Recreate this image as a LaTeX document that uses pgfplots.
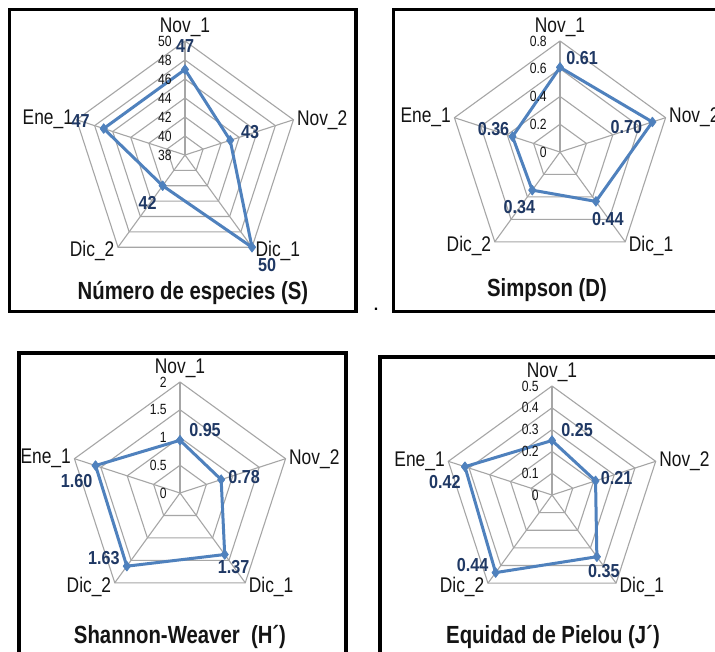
\documentclass[border=0pt]{standalone}
\usepackage{pgfplots}
\pgfplotsset{compat=1.18}
\usepackage{pgfplotstable}
\usepackage{fontspec}
\setmainfont{Liberation Sans}

\definecolor{serie}{RGB}{79,129,189}
\definecolor{valc}{RGB}{31,56,100}
\definecolor{gridc}{RGB}{166,166,166}
\definecolor{txt}{RGB}{20,20,20}

\newcommand\catfont{\fontsize{10.6}{12}\selectfont}
\newcommand\valfont{\bfseries\fontsize{9.4}{11}\selectfont}
\newcommand\tickfont{\fontsize{7.4}{9}\selectfont}
\newcommand\titlefont{\bfseries\fontsize{12.4}{14}\selectfont}

% ang = angle of the spoke, val = value, dx/dy = label offset in px (dy downwards)
\pgfplotstableread{
ang val dx dy
90 47 0 -23
18 43 20 -8
-54 50 15 18
-126 42 -15 17
162 47 -23 -8
}\datS

\pgfplotstableread{
ang val dx dy
90 0.61 22 -9
18 0.70 -26 5
-54 0.44 12 18
-126 0.34 -13 17
162 0.36 -19 -8
}\datD

\pgfplotstableread{
ang val dx dy
90 0.95 25 -10
18 0.78 23 -3
-54 1.37 9 13
-126 1.63 -23 -8
162 1.60 -19 15
}\datH

\pgfplotstableread{
ang val dx dy
90 0.25 25 -10
18 0.21 21 -3
-54 0.35 7 14
-126 0.44 -23 -8
162 0.42 -20 15
}\datJ

\pgfplotsset{
  radar/.style={hide axis, clip=false, x=#1, y=#1, anchor=center},
  serie/.style={color=serie, line width=1.5pt, line join=round,
    mark=diamond*, mark size=2.4pt, mark options={solid, line width=0.4pt},
    nodes near coords, point meta=explicit symbolic,
    visualization depends on={\thisrow{dx}\as\ldx},
    visualization depends on={\thisrow{dy}\as\ldy},
    nodes near coords style={font=\valfont, text=valc, anchor=center, inner sep=0pt,
      xshift=\ldx*0.5pt, yshift=-\ldy*0.5pt, xscale=0.86}},
}
\tikzset{
  cat/.style={font=\catfont, text=txt, inner sep=2pt, xscale=0.82},
  tlab/.style={font=\tickfont, text=txt, anchor=east, inner sep=0pt, xshift=-6.5pt, xscale=0.82},
}

\newcommand\ring[1]{\addplot[gridc, line width=0.55pt, data cs=polar, forget plot]
  coordinates {(90,#1)(18,#1)(-54,#1)(-126,#1)(162,#1)(90,#1)};}
\newcommand\spokes[1]{%
  \addplot[gridc, line width=0.55pt, data cs=polar, forget plot] coordinates {(90,0)(90,#1)};
  \addplot[gridc, line width=0.55pt, data cs=polar, forget plot] coordinates {(18,0)(18,#1)};
  \addplot[gridc, line width=0.55pt, data cs=polar, forget plot] coordinates {(-54,0)(-54,#1)};
  \addplot[gridc, line width=0.55pt, data cs=polar, forget plot] coordinates {(-126,0)(-126,#1)};
  \addplot[gridc, line width=0.55pt, data cs=polar, forget plot] coordinates {(162,0)(162,#1)};}
\newcommand\cats[1]{%
  \node[cat, anchor=south] at (axis cs:0,#1) {Nov\_1};
  \node[cat, anchor=west] at (axis cs:{#1*0.9511},{#1*0.309}) {Nov\_2};
  \node[cat, anchor=west, yshift=-2pt] at (axis cs:{#1*0.5878},{-#1*0.809}) {Dic\_1};
  \node[cat, anchor=east, yshift=-2pt] at (axis cs:{-#1*0.5878},{-#1*0.809}) {Dic\_2};
  \node[cat, anchor=east] at (axis cs:{-#1*0.9511},{#1*0.309}) {Ene\_1};}
\newcommand\tl[2]{\node[tlab] at (axis cs:0,#1) {#2};}

\begin{document}
\begin{tikzpicture}[x=0.5pt,y=-0.5pt]
\path[use as bounding box] (0,0) rectangle (715,651);
\clip (0,0) rectangle (715,651);
\fill[white] (0,0) rectangle (715,651);

% centres of the four radars
\coordinate (cS) at (185,155);
\coordinate (cD) at (560,152);
\coordinate (cH) at (180,493);
\coordinate (cJ) at (552,495);

% frames
\draw[line width=1.6pt] (9.5,9.5) rectangle (356,311.5);
\draw[line width=1.6pt] (393.5,9.5) rectangle (740,311.5);
\draw[line width=2pt] (18.5,353) rectangle (345.5,680);
\draw[line width=2pt] (380,357) rectangle (740,680);
\node[font=\bfseries\fontsize{8}{9}\selectfont, inner sep=0pt] at (376,309) {.};

% titles
\node[font=\titlefont, text=txt, xscale=0.82] at (193,293) {Número de especies (S)};
\node[font=\titlefont, text=txt, xscale=0.82] at (547,290) {Simpson (D)};
\node[font=\titlefont, text=txt, xscale=0.82] at (180,637) {Shannon-Weaver\ \ (H´)};
\node[font=\titlefont, text=txt, xscale=0.82] at (553,637) {Equidad de Pielou (J´)};

% Numero de especies (S), scale 38..50
\begin{axis}[radar=4.75pt, at={(cS)}, xmin=-12, xmax=12, ymin=-12, ymax=12]
\ring{2}\ring{4}\ring{6}\ring{8}\ring{10}\ring{12}
\spokes{12}
\addplot[serie] table[x expr={(\thisrow{val}-38)*cos(\thisrow{ang})},
  y expr={(\thisrow{val}-38)*sin(\thisrow{ang})}, meta=val] {\datS} -- cycle;
\cats{12}
\tl{0}{38}\tl{2}{40}\tl{4}{42}\tl{6}{44}\tl{8}{46}\tl{10}{48}\tl{12}{50}
\end{axis}

% Simpson (D), scale 0..0.8
\begin{axis}[radar=69.375pt, at={(cD)}, xmin=-0.8, xmax=0.8, ymin=-0.8, ymax=0.8]
\ring{0.2}\ring{0.4}\ring{0.6}\ring{0.8}
\spokes{0.8}
\addplot[serie] table[x expr={\thisrow{val}*cos(\thisrow{ang})},
  y expr={\thisrow{val}*sin(\thisrow{ang})}, meta=val] {\datD} -- cycle;
\cats{0.8}
\tl{0}{0}\tl{0.2}{0.2}\tl{0.4}{0.4}\tl{0.6}{0.6}\tl{0.8}{0.8}
\end{axis}

% Shannon-Weaver (H'), scale 0..2
\begin{axis}[radar=27.75pt, at={(cH)}, xmin=-2, xmax=2, ymin=-2, ymax=2]
\ring{0.5}\ring{1}\ring{1.5}\ring{2}
\spokes{2}
\addplot[serie] table[x expr={\thisrow{val}*cos(\thisrow{ang})},
  y expr={\thisrow{val}*sin(\thisrow{ang})}, meta=val] {\datH} -- cycle;
\cats{2}
\tl{0}{0}\tl{0.5}{0.5}\tl{1}{1}\tl{1.5}{1.5}\tl{2}{2}
\end{axis}

% Equidad de Pielou (J'), scale 0..0.5
\begin{axis}[radar=109pt, at={(cJ)}, xmin=-0.5, xmax=0.5, ymin=-0.5, ymax=0.5]
\ring{0.1}\ring{0.2}\ring{0.3}\ring{0.4}\ring{0.5}
\spokes{0.5}
\addplot[serie] table[x expr={\thisrow{val}*cos(\thisrow{ang})},
  y expr={\thisrow{val}*sin(\thisrow{ang})}, meta=val] {\datJ} -- cycle;
\cats{0.5}
\tl{0}{0}\tl{0.1}{0.1}\tl{0.2}{0.2}\tl{0.3}{0.3}\tl{0.4}{0.4}\tl{0.5}{0.5}
\end{axis}
\end{tikzpicture}
\end{document}
